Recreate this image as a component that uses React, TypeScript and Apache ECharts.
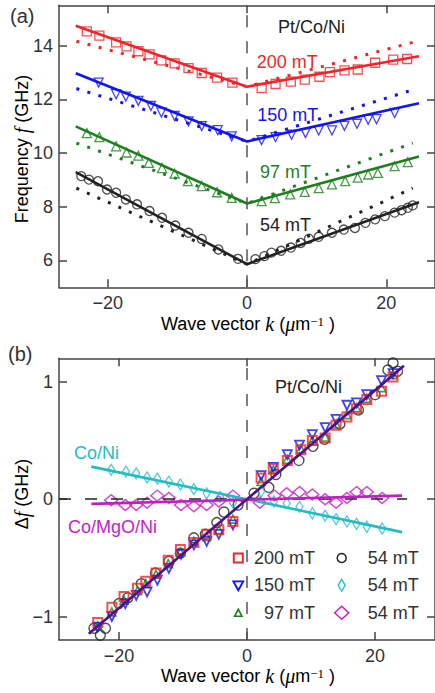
import React, { useEffect, useRef } from "react";
import * as echarts from "echarts";

// ---------- Panel (a): frequency vs wave vector ----------
const kA200 = [-23, -21.2, -18.8, -17.3, -15.6, -14, -12.3, -10.4, -8.4, -6.5, -4.3, -2.1, 2.1, 4.1, 6.3, 8.3, 10.4, 11.9, 14, 15.9, 18.4, 21, 23];
const fA200 = [14.53, 14.37, 14.12, 13.97, 13.79, 13.67, 13.45, 13.34, 13.16, 12.98, 12.81, 12.62, 12.42, 12.57, 12.66, 12.73, 12.84, 13.01, 13.08, 13.11, 13.36, 13.48, 13.5];
const kA150 = [-21.3, -18.8, -17.4, -15.6, -13.8, -12.3, -10.4, -8.4, -6.5, -4.2, -2.2, 2.1, 4.1, 6.4, 8.4, 10.3, 12.2, 14, 15.8, 17.4, 18.6, 21.2];
const fA150 = [12.62, 12.19, 12.1, 11.94, 11.75, 11.51, 11.38, 11.18, 11.0, 10.85, 10.62, 10.48, 10.59, 10.68, 10.74, 10.84, 10.84, 11.01, 11.09, 11.24, 11.26, 11.49];
const kA97 = [-23, -21.2, -18.8, -17.3, -15.6, -14.1, -12.2, -10.4, -8.5, -6.5, -4.3, -2.2, 2.1, 4.0, 6.2, 8.3, 10.3, 12.2, 14.1, 15.9, 17.4, 18.8, 21.2, 23.1];
const fA97 = [10.74, 10.59, 10.25, 10.02, 9.9, 9.63, 9.44, 9.23, 8.95, 8.77, 8.54, 8.33, 8.21, 8.32, 8.46, 8.55, 8.69, 8.83, 8.95, 9.08, 9.2, 9.26, 9.51, 9.66];
const kA54 = [-23.8, -22.7, -21.4, -20.1, -18.8, -17.4, -15.8, -14, -12.2, -10.3, -8.4, -6.5, -4.1, -1.3, 1.2, 2.5, 3.5, 4.9, 6.3, 7.7, 8.9, 10.3, 12.2, 13.9, 15.5, 17, 18.4, 19.8, 21.2, 22.2, 23.1, 23.8];
const fA54 = [9.14, 9.01, 8.95, 8.64, 8.52, 8.27, 8.09, 7.84, 7.59, 7.3, 7.03, 6.8, 6.41, 6.06, 6.05, 6.16, 6.29, 6.36, 6.48, 6.65, 6.81, 6.88, 7.03, 7.15, 7.21, 7.4, 7.53, 7.65, 7.78, 7.87, 7.96, 8.05];

// fitted dispersion (solid) and symmetric dispersion (dotted)
const fitK = [-24.6, 0, 24.7];
const fit200 = [14.74, 12.47, 13.6];
const fit150 = [12.97, 10.43, 11.85];
const fit97 = [10.99, 8.12, 9.87];
const fit54 = [9.29, 5.86, 8.17];
const symK = [-24.5, 0, 23.8];
const sym200 = [14.16, 12.47, 14.12];
const sym150 = [12.4, 10.43, 12.35];
const sym97 = [10.37, 8.12, 10.37];
const sym54 = [8.69, 5.86, 8.69];

// ---------- Panel (b): frequency difference ----------
const kB200 = [-23.3, -21.1, -19.2, -17.1, -15.8, -14.2, -12.3, -10.4, -8.3, -6.3, -4.4, -2.2, 2.2, 4.1, 6.3, 8.4, 10.2, 12.2, 13.9, 15.6, 17.1, 18.7, 21.0, 22.8];
const dB200 = [-1.05, -0.92, -0.83, -0.76, -0.7, -0.63, -0.52, -0.43, -0.37, -0.3, -0.26, -0.19, 0.18, 0.26, 0.33, 0.42, 0.5, 0.52, 0.63, 0.7, 0.77, 0.85, 0.92, 1.04];
const kB150 = [-23.3, -21.1, -19.0, -17.3, -15.6, -14.0, -12.2, -10.3, -8.3, -6.3, -4.4, -2.2, 2.2, 4.1, 6.3, 8.2, 10.2, 12.2, 13.9, 15.6, 17.1, 18.7, 21.0, 22.8];
const dB150 = [-1.09, -1.0, -0.89, -0.82, -0.79, -0.69, -0.59, -0.47, -0.39, -0.36, -0.3, -0.22, 0.2, 0.27, 0.38, 0.46, 0.55, 0.61, 0.68, 0.8, 0.82, 0.89, 1.01, 1.07];
const kB97 = [-23.3, -21.1, -19.2, -17.1, -15.8, -14.2, -12.3, -10.4, -8.3, -6.3, -4.4, -2.2, 2.2, 4.1, 6.3, 8.4, 10.2, 12.2, 13.9, 15.6, 17.1, 18.7, 21.0, 22.8];
const dB97 = [-1.08, -0.96, -0.86, -0.78, -0.72, -0.64, -0.55, -0.45, -0.36, -0.32, -0.26, -0.17, 0.15, 0.25, 0.34, 0.43, 0.5, 0.53, 0.64, 0.72, 0.78, 0.86, 0.95, 1.06];
const kB54 = [-23.9, -22.9, -22.1, -20.0, -18.6, -16.5, -14.3, -12.2, -10.4, -8.3, -6.5, -4.7, -3.6, -1.4, 1.1, 3.4, 4.5, 8.1, 10.3, 12.1, 14.5, 17.4, 20.0, 22.0, 22.8, 23.5];
const dB54 = [-1.1, -1.16, -1.1, -0.89, -0.84, -0.72, -0.63, -0.53, -0.46, -0.33, -0.3, -0.2, -0.11, -0.05, 0.05, 0.1, 0.21, 0.33, 0.45, 0.51, 0.64, 0.76, 0.89, 1.1, 1.16, 1.09];
const kCoNi = [-21.2, -18.9, -17.3, -15.6, -14.0, -12.2, -10.4, -8.3, -6.3, -4.2, -2.2, 2.2, 4.2, 6.2, 8.2, 10.2, 12.2, 13.9, 15.6, 17.1, 18.7, 21.1];
const dCoNi = [0.25, 0.235, 0.22, 0.185, 0.175, 0.15, 0.125, 0.085, 0.05, 0.02, -0.03, 0.065, -0.02, -0.035, -0.065, -0.12, -0.14, -0.17, -0.19, -0.21, -0.235, -0.25];
const kMgO = [-21.2, -19.0, -17.3, -15.6, -14.0, -12.2, -10.3, -8.3, -6.3, -4.4, -2.2, 2.0, 4.3, 6.2, 8.2, 10.2, 12.2, 13.9, 15.6, 17.1, 18.7, 21.1];
const dMgO = [-0.01, -0.05, -0.05, -0.03, 0.03, 0.01, -0.05, -0.06, -0.05, -0.02, 0.03, -0.03, 0.03, 0.05, 0.06, 0.04, 0.0, -0.03, 0.01, 0.06, 0.06, 0.01];

const fitKPt = [-24.7, 0, 24.5];
const fitPt = [-1.146, 0, 1.137];
const fitKC = [-24.3, 0, 24.2];
const fitCoNi = [0.277, 0, -0.281];
const fitMgO = [-0.04, -0.005, 0.03];

// axis ranges and ticks
const xTicks = [-20, 0, 20];
const yTicksA = [6, 8, 10, 12, 14];
const yTicksB = [-1, 0, 1];

const RED = "#f0252a";
const BLUE = "#1414f0";
const GREEN = "#1f7f1f";
const BLACK = "#222222";
const CYAN = "#22bcc4";
const MAGENTA = "#c21fc2";
const PURPLE = "#4a1488";
const AX = "#444444";
const TXT = "#333333";
const SANS = "Liberation Sans";
const SERIF = "Liberation Serif";

const zip = (xs: number[], ys: number[]) => xs.map((x, i) => [x, ys[i]]);
const minus = (v: number) => String(v).replace("-", "\u2212");

function axisPair(kind: "x" | "y", grid: number, min: number, max: number, ticks: number[]) {
  const main: any = {
    type: "value",
    gridIndex: grid,
    min,
    max,
    position: kind === "x" ? "bottom" : "left",
    axisLine: { show: true, onZero: false, lineStyle: { color: AX, width: 1.5 } },
    axisTick: { show: true, inside: true, length: 8, customValues: ticks, lineStyle: { color: AX, width: 1.5 } },
    axisLabel: {
      show: true,
      customValues: ticks,
      formatter: minus,
      color: TXT,
      fontSize: 18,
      fontFamily: SANS,
      margin: kind === "x" ? 7 : 6,
    },
    splitLine: { show: false },
  };
  const mirror: any = {
    type: "value",
    gridIndex: grid,
    min,
    max,
    position: kind === "x" ? "top" : "right",
    axisLine: { show: true, onZero: false, lineStyle: { color: AX, width: 1.5 } },
    axisTick: { show: true, inside: true, length: 8, customValues: ticks, lineStyle: { color: AX, width: 1.5 } },
    axisLabel: { show: false },
    splitLine: { show: false },
  };
  return [main, mirror];
}

const openStyle = (c: string, w: number) => ({ color: "rgba(0,0,0,0)", borderColor: c, borderWidth: w });

function panelA() {
  const groups = [
    { c: RED, sym: "rect", size: 9, rot: 0, k: kA200, f: fA200, fit: fit200, s: sym200 },
    { c: BLUE, sym: "triangle", size: 9, rot: 180, k: kA150, f: fA150, fit: fit150, s: sym150 },
    { c: GREEN, sym: "triangle", size: 9, rot: 0, k: kA97, f: fA97, fit: fit97, s: sym97 },
    { c: BLACK, sym: "circle", size: 9, rot: 0, k: kA54, f: fA54, fit: fit54, s: sym54 },
  ];
  const out: any[] = [];
  groups.forEach((g, i) => {
    out.push({
      type: "line",
      xAxisIndex: 0,
      yAxisIndex: 0,
      data: zip(symK, g.s),
      symbol: "none",
      showSymbol: false,
      silent: true,
      lineStyle: { color: g.c, width: 3, type: [3, 8.5], cap: "butt" },
      z: 2,
    });
    const sc: any = {
      type: "scatter",
      xAxisIndex: 0,
      yAxisIndex: 0,
      data: zip(g.k, g.f),
      symbol: g.sym,
      symbolSize: g.size,
      symbolRotate: g.rot,
      itemStyle: openStyle(g.c, 1.3),
      silent: true,
      z: 3,
    };
    if (i === 0) {
      sc.markLine = {
        silent: true,
        symbol: ["none", "none"],
        label: { show: false },
        lineStyle: { color: "#555", width: 1.5, type: [12, 14] },
        data: [{ xAxis: 0 }],
      };
    }
    out.push(sc);
    out.push({
      type: "line",
      xAxisIndex: 0,
      yAxisIndex: 0,
      data: zip(fitK, g.fit),
      symbol: "none",
      showSymbol: false,
      silent: true,
      lineStyle: { color: g.c, width: 2.6 },
      z: 4,
    });
  });
  return out;
}

function panelB() {
  const sc = (data: number[][], c: string, sym: string, size: any, rot: number, w: number, z: number) => ({
    type: "scatter",
    xAxisIndex: 2,
    yAxisIndex: 2,
    data,
    symbol: sym,
    symbolSize: size,
    symbolRotate: rot,
    itemStyle: openStyle(c, w),
    silent: true,
    z,
  });
  const ln = (data: number[][], c: string) => ({
    type: "line",
    xAxisIndex: 2,
    yAxisIndex: 2,
    data,
    symbol: "none",
    showSymbol: false,
    silent: true,
    lineStyle: { color: c, width: 2.6 },
    z: 6,
  });
  const black: any = sc(zip(kB54, dB54), BLACK, "circle", 10, 0, 1.4, 3);
  black.markLine = {
    silent: true,
    symbol: ["none", "none"],
    label: { show: false },
    data: [
      { xAxis: 0, lineStyle: { color: "#555", width: 1.5, type: [12, 14] } },
      [
        { coord: [-29.35, 0], lineStyle: { color: "#222", width: 1.5, type: [12, 14] } },
        { coord: [25, 0] },
      ],
    ],
  };
  return [
    black,
    sc(zip(kB97, dB97), GREEN, "triangle", 8, 0, 1.6, 3),
    sc(zip(kB150, dB150), BLUE, "triangle", 9, 180, 1.8, 4),
    sc(zip(kB200, dB200), RED, "rect", 9, 0, 2, 5),
    sc(zip(kCoNi, dCoNi), CYAN, "diamond", [7, 11], 0, 1.3, 4),
    sc(zip(kMgO, dMgO), MAGENTA, "diamond", [13, 11], 0, 1.5, 4),
    ln(zip(fitKC, fitCoNi), CYAN),
    ln(zip(fitKC, fitMgO), MAGENTA),
    ln(zip(fitKPt, fitPt), PURPLE),
  ];
}

const rich = {
  n: { fontSize: 18, fontFamily: SANS, color: TXT, lineHeight: 18 },
  i: { fontSize: 20, fontFamily: SERIF, fontStyle: "italic", color: TXT, lineHeight: 18 },
  sup: { fontSize: 13, fontFamily: SERIF, color: TXT, verticalAlign: "top", lineHeight: 11 },
};

const label = (text: string, x: number, y: number, color: string, size = 18, align = "left") => ({
  type: "text",
  x,
  y,
  silent: true,
  style: { text, fill: color, font: `${size}px "${SANS}"`, align, verticalAlign: "middle" },
});

function legendGraphics() {
  const r1 = 558, r2 = 585.3, r3 = 612.8;
  const c1 = 238.3, c2 = 341.7;
  const g: any[] = [
    { type: "rect", silent: true, shape: { x: c1 - 4.5, y: r1 - 4.5, width: 9, height: 9 }, style: { fill: "none", stroke: RED, lineWidth: 2 } },
    { type: "polygon", silent: true, shape: { points: [[c1 - 5, r2 - 4], [c1 + 5, r2 - 4], [c1, r2 + 5]] }, style: { fill: "none", stroke: BLUE, lineWidth: 1.8 } },
    { type: "polygon", silent: true, shape: { points: [[c1 - 3.7, r3 + 3.5], [c1 + 3.7, r3 + 3.5], [c1, r3 - 3.5]] }, style: { fill: "none", stroke: GREEN, lineWidth: 1.6 } },
    { type: "circle", silent: true, shape: { cx: c2, cy: r1, r: 4.5 }, style: { fill: "none", stroke: BLACK, lineWidth: 1.5 } },
    { type: "polygon", silent: true, shape: { points: [[c2, r2 - 6], [c2 + 3.5, r2], [c2, r2 + 6], [c2 - 3.5, r2]] }, style: { fill: "none", stroke: CYAN, lineWidth: 1.3 } },
    { type: "polygon", silent: true, shape: { points: [[c2, r3 - 6.5], [c2 + 7, r3], [c2, r3 + 6.5], [c2 - 7, r3]] }, style: { fill: "none", stroke: MAGENTA, lineWidth: 1.5 } },
    label("200 mT", 315, r1, TXT, 18, "right"),
    label("150 mT", 315, r2, TXT, 18, "right"),
    label("97 mT", 315, r3, TXT, 18, "right"),
    label("54 mT", 367.7, r1, TXT),
    label("54 mT", 367.7, r2, TXT),
    label("54 mT", 367.7, r3, TXT),
  ];
  return g;
}

function titles() {
  const xTitle = "{n|Wave vector }{i|k}{n| (}{i|\u03bc}{n|m}{sup|\u22121}{n| )}";
  return [
    label("(a)", 10, 16, TXT, 20),
    label("(b)", 8, 354, TXT, 20),
    {
      type: "text",
      x: 248,
      y: 324,
      silent: true,
      style: { text: xTitle, rich, align: "center", verticalAlign: "middle" },
    },
    {
      type: "text",
      x: 248,
      y: 676,
      silent: true,
      style: { text: xTitle, rich, align: "center", verticalAlign: "middle" },
    },
    {
      type: "text",
      x: 22,
      y: 149,
      rotation: Math.PI / 2,
      silent: true,
      style: { text: "{n|Frequency }{i|f}{n| (GHz)}", rich, align: "center", verticalAlign: "middle" },
    },
    {
      type: "text",
      x: 22,
      y: 494,
      rotation: Math.PI / 2,
      silent: true,
      style: { text: "{n|\u0394}{i|f}{n| (GHz)}", rich, align: "center", verticalAlign: "middle" },
    },
    label("Pt/Co/Ni", 278, 26.5, BLACK),
    label("200 mT", 256.7, 61.5, RED),
    label("150 mT", 257.3, 115, BLUE),
    label("97 mT", 260, 171.7, GREEN),
    label("54 mT", 260, 225, BLACK),
    label("Pt/Co/Ni", 275, 387, BLACK),
    label("Co/Ni", 74, 453, CYAN),
    label("Co/MgO/Ni", 68, 527, MAGENTA),
  ];
}

export default function App() {
  const ref = useRef<HTMLDivElement>(null);
  useEffect(() => {
    if (!ref.current) return;
    const chart = echarts.init(ref.current, undefined, { renderer: "svg" });
    const [xa0, xa1] = axisPair("x", 0, -27, 27, xTicks);
    const [xb0, xb1] = axisPair("x", 1, -29.35, 29.35, xTicks);
    const [ya0, ya1] = axisPair("y", 0, 5, 15.5, yTicksA);
    const [yb0, yb1] = axisPair("y", 1, -1.2, 1.2, yTicksB);
    chart.setOption({
      animation: false,
      backgroundColor: "#ffffff",
      textStyle: { fontFamily: SANS },
      grid: [
        { left: 59, top: 5.3, width: 380, height: 282, containLabel: false },
        { left: 59, top: 358.3, width: 380, height: 281.7, containLabel: false },
      ],
      xAxis: [xa0, xa1, xb0, xb1],
      yAxis: [ya0, ya1, yb0, yb1],
      series: [...panelA(), ...panelB()],
      graphic: [...titles(), ...legendGraphics()],
    });
    return () => chart.dispose();
  }, []);
  return (
    <div
      ref={ref}
      style={{ position: "absolute", left: 0, top: 0, width: 435, height: 693, background: "#fff" }}
    />
  );
}
